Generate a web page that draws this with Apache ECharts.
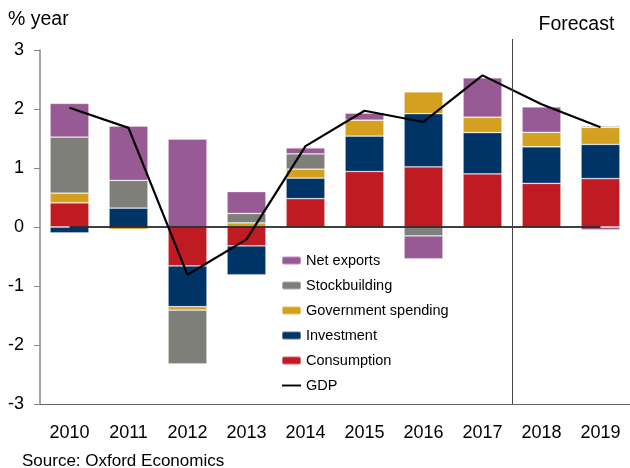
<!DOCTYPE html>
<html>
<head>
<meta charset="utf-8">
<script src="https://cdn.jsdelivr.net/npm/echarts@6/dist/echarts.min.js"></script>
<style>html,body{margin:0;padding:0;background:#fff;}#c{width:630px;height:468px;}</style>
</head>
<body>
<div id="c"></div>
<script>
const years = ['2010','2011','2012','2013','2014','2015','2016','2017','2018','2019'];
const consumption   = [0.41, 0.00, -0.66, -0.32, 0.48, 0.94, 1.02, 0.90, 0.74, 0.82];
const investment    = [-0.10, 0.32, -0.69, -0.49, 0.35, 0.60, 0.90, 0.70, 0.62, 0.58];
const government    = [0.165, -0.04, -0.06, 0.07, 0.15, 0.27, 0.37, 0.26, 0.245, 0.29];
const stockbuilding = [0.95, 0.47, -0.91, 0.16, 0.26, 0.00, -0.15, 0.00, 0.00, 0.02];
const netExports    = [0.57, 0.92, 1.49, 0.37, 0.10, 0.12, -0.39, 0.67, 0.43, -0.05];
const gdp           = [2.02, 1.68, -0.81, -0.21, 1.37, 1.97, 1.78, 2.57, 2.08, 1.69];
const yTicks = {min: -3, max: 3, interval: 1};
const forecastAfter = '2017';

const FONT = "'Liberation Sans', Arial, sans-serif";
const chart = echarts.init(document.getElementById('c'), null, {renderer: 'canvas'});
const border = {borderColor: 'rgba(255,255,255,0.35)', borderWidth: 0.8};
function bar(name, data, color) {
  return {name, type: 'bar', stack: 'c', data, barWidth: '66%',
    itemStyle: Object.assign({color}, border)};
}
chart.setOption({
  animation: false,
  textStyle: {fontFamily: FONT, color: '#000'},
  grid: {left: 40, top: 50, width: 594, bottom: 64, containLabel: false},
  legend: {
    orient: 'vertical', left: 281, top: 253, padding: 0, itemWidth: 19, itemHeight: 8, itemGap: 10,
    textStyle: {fontFamily: FONT, fontSize: 14.5, color: '#000'},
    data: ['Net exports', 'Stockbuilding', 'Government spending', 'Investment', 'Consumption',
      {name: 'GDP', icon: 'path://M0,0H20V2H0Z', itemStyle: {color: '#000'}}]
  },
  xAxis: {
    type: 'category', data: years,
    axisLine: {onZero: false, lineStyle: {color: '#666', width: 1}},
    axisTick: {length: 6, lineStyle: {color: '#666'}},
    axisLabel: {fontFamily: FONT, fontSize: 18, color: '#000', margin: 20}
  },
  yAxis: {
    type: 'value', min: yTicks.min, max: yTicks.max, interval: yTicks.interval,
    splitLine: {show: false},
    axisLine: {show: true, lineStyle: {color: '#888', width: 1.5}},
    axisTick: {show: true, length: 6, lineStyle: {color: '#888'}},
    axisLabel: {fontFamily: FONT, fontSize: 18, color: '#000', margin: 16}
  },
  series: [
    bar('Consumption', consumption, '#C01B22'),
    bar('Investment', investment, '#003366'),
    bar('Government spending', government, '#D4A020'),
    bar('Stockbuilding', stockbuilding, '#7F7F7A'),
    bar('Net exports', netExports, '#985A94'),
    {
      name: 'GDP', type: 'line', data: gdp, symbol: 'none', z: 5,
      lineStyle: {color: '#000', width: 2.2}, itemStyle: {color: '#000'},
      markLine: {
        silent: true, symbol: 'none', label: {show: false},
        lineStyle: {color: '#000', width: 1.5, type: 'solid'},
        data: [[{coord: [0, 0]}, {coord: [years.length - 1, 0]}]]
      }
    }
  ]
});

const xa = chart.convertToPixel({xAxisIndex: 0}, forecastAfter);
const xb = chart.convertToPixel({xAxisIndex: 0}, years[years.indexOf(forecastAfter) + 1]);
const xLine = Math.round((xa + xb) / 2) + 0.5;
const yTop = chart.convertToPixel({yAxisIndex: 0}, yTicks.max) - 11;
const yBot = chart.convertToPixel({yAxisIndex: 0}, yTicks.min);
chart.setOption({
  graphic: [
    {type: 'line', silent: true, z: 10,
      shape: {x1: xLine, y1: yTop, x2: xLine, y2: yBot},
      style: {stroke: '#444', lineWidth: 1}},
    {type: 'text', left: xLine + 26, top: 15,
      style: {text: 'Forecast', font: '19.5px ' + FONT, fill: '#000'}},
    {type: 'text', left: 8, top: 10,
      style: {text: '% year', font: '19.5px ' + FONT, fill: '#000'}},
    {type: 'text', left: 22, top: 453,
      style: {text: 'Source: Oxford Economics', font: '17px ' + FONT, fill: '#000'}}
  ]
});
</script>
</body>
</html>
